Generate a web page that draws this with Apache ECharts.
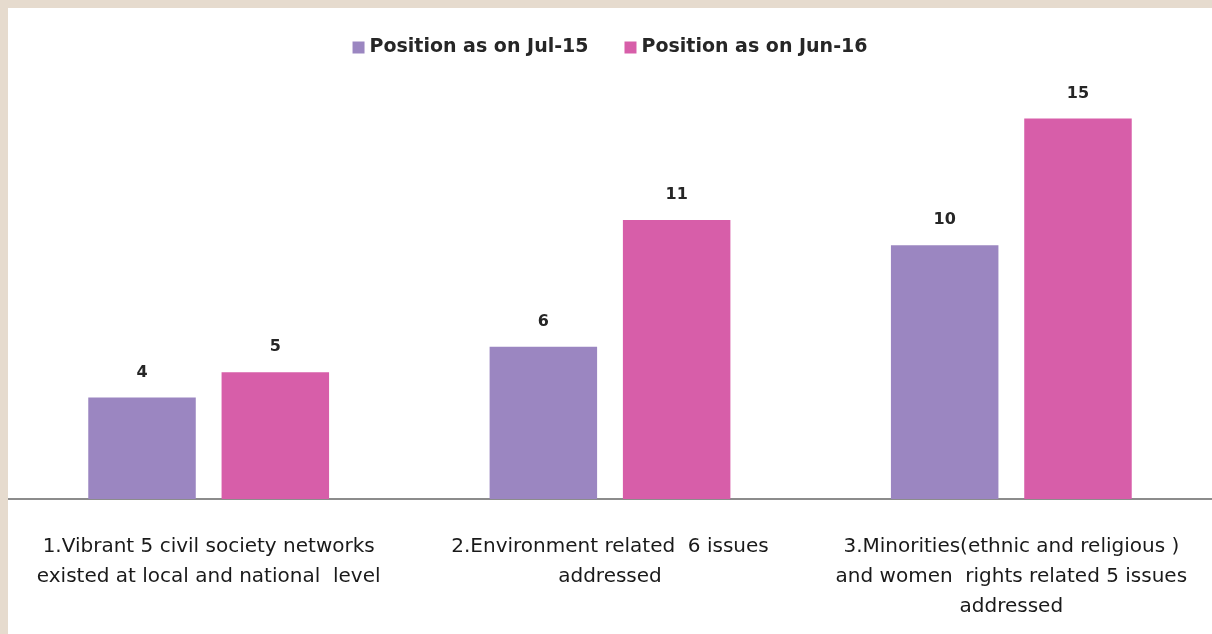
<!DOCTYPE html>
<html>
<head>
<meta charset="utf-8">
<script src="https://cdn.jsdelivr.net/npm/echarts@6/dist/echarts.min.js"></script>
<style>
  html, body { margin: 0; padding: 0; background: #e6dbce; }
  #chart-container { position: absolute; left: 8px; top: 8px; width: 1204px; height: 626px; background: #ffffff; }
</style>
</head>
<body>
<div id="chart-container"></div>
<script>
var categories = [
  '1.Vibrant 5 civil society networks\nexisted at local and national  level',
  '2.Environment related  6 issues\naddressed',
  '3.Minorities(ethnic and religious )\nand women  rights related 5 issues\naddressed'
];
var seriesNames = ['Position as on Jul-15', 'Position as on Jun-16'];
var jul15 = [4, 6, 10];
var jun16 = [5, 11, 15];

var dom = document.getElementById('chart-container');
var myChart = echarts.init(dom, null, { renderer: 'canvas' });

var labelStyle = {
  show: true,
  position: 'top',
  distance: 17,
  fontFamily: 'DejaVu Sans',
  fontSize: 16,
  fontWeight: 'bold',
  color: '#262626'
};

var option = {
  animation: false,
  backgroundColor: '#ffffff',
  legend: {
    data: seriesNames,
    top: 25,
    left: 'center',
    itemWidth: 12,
    itemHeight: 12,
    itemGap: 36,
    icon: 'rect',
    textStyle: {
      fontFamily: 'DejaVu Sans',
      fontSize: 19,
      fontWeight: 'bold',
      color: '#262626'
    }
  },
  grid: {
    left: 0,
    right: 0,
    top: 85,
    bottom: 135,
    containLabel: false
  },
  xAxis: {
    type: 'category',
    data: categories,
    axisTick: { show: false },
    axisLine: { lineStyle: { color: '#8c8c8c', width: 2 } },
    axisLabel: {
      interval: 0,
      margin: 33,
      lineHeight: 30,
      fontFamily: 'DejaVu Sans',
      fontSize: 20,
      color: '#1a1a1a',
      align: 'center'
    }
  },
  yAxis: {
    type: 'value',
    min: 0,
    max: 16,
    show: false
  },
  series: [
    {
      name: seriesNames[0],
      type: 'bar',
      data: jul15,
      barGap: '24%',
      barCategoryGap: '40%',
      itemStyle: { color: '#9b86c1' },
      label: labelStyle
    },
    {
      name: seriesNames[1],
      type: 'bar',
      data: jun16,
      itemStyle: { color: '#d75ea9' },
      label: labelStyle
    }
  ]
};

myChart.setOption(option);
window.addEventListener('resize', myChart.resize);
</script>
</body>
</html>
